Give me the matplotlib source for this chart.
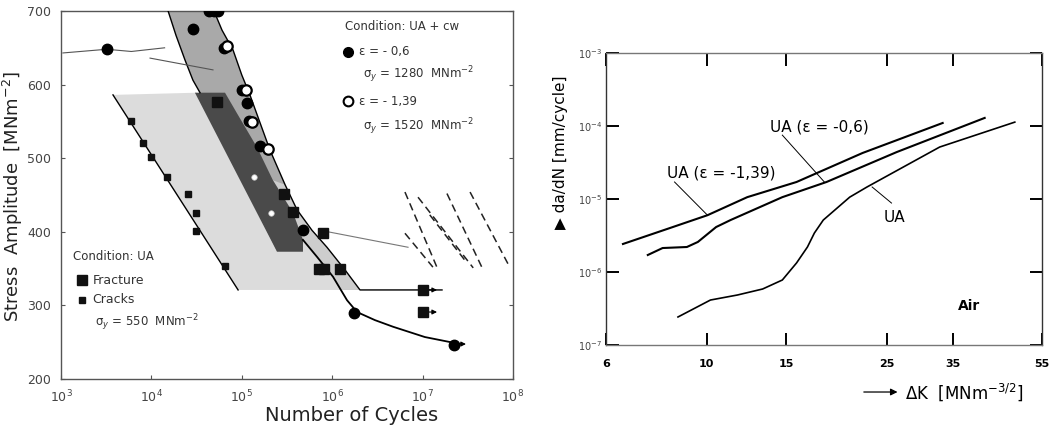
import numpy as np
import matplotlib
matplotlib.use('Agg')
import matplotlib.pyplot as plt
from matplotlib.patches import Polygon

# ================= Left panel: S-N data =================
cracks_N = [5.9e3, 8.15e3, 9.9e3, 1.48e4, 2.52e4, 3.09e4, 3.12e4, 6.5e4]
cracks_S = [551, 520, 501, 475, 451, 426, 401, 353]
cracks_line_N = [3.76e3, 9.1e4]
cracks_line_S = [586, 321]

fracture_N = [5.3e4, 2.9e5, 3.7e5, 8.0e5, 7.1e5, 8.2e5, 1.23e6, 1e7, 1e7]
fracture_S = [577, 452, 427, 399, 350, 350, 350, 321, 291]

eps06_N = [3.2e3, 4.3e4, 4.9e4, 5.5e4, 2.87e4, 6.3e4, 1.0e5, 1.13e5, 1.2e5, 1.6e5, 4.8e5, 1.75e6, 2.2e7]
eps06_S = [648, 700, 700, 700, 675, 650, 593, 575, 550, 516, 402, 290, 246]

eps139_N = [6.8e4, 1.1e5, 1.29e5, 1.97e5]
eps139_S = [652, 593, 549, 512]
eps139_small_N = [1.35e5, 2.1e5]
eps139_small_S = [475, 425]

# band boundaries
upper_left_N = [1.53e4, 1.87e4, 2.36e4, 2.88e4, 3.45e4]
upper_left_S = [700, 667, 633, 606, 589]
lower_curve_N = [4.75e5, 6.79e5, 1.02e6, 1.46e6, 1.88e6, 2.97e6, 4.71e6, 1.06e7, 2.59e7]
lower_curve_S = [389, 366, 339, 307, 291, 280, 271, 257, 247.5]
right_curve_N = [4.92e4, 6.04e4, 8.0e4, 1.0e5, 1.23e5, 1.55e5, 2.05e5, 3.01e5, 4.08e5,
                 5.98e5, 8.75e5, 1.39e6, 2.03e6, 1.64e7]
right_curve_S = [700, 674, 647, 613, 586, 552, 511, 464, 430, 402, 379, 348, 321, 321]

dark_N = [3.03e4, 6.52e4, 8.85e4, 1.47e5, 2.21e5, 3.68e5, 4.75e5, 4.75e5, 2.45e5]
dark_S = [589, 589, 561, 515, 470, 426, 389, 373, 373]
light_N = [3.76e3, 3.19e4, 2.45e5, 4.75e5, 4.75e5, 6.79e5, 1.02e6, 1.22e6, 9.08e4]
light_S = [586, 589, 373, 373, 389, 366, 339, 321, 321]
lowband_N = [2.21e5, 3.68e5, 4.75e5, 6.79e5, 1.02e6, 1.22e6, 2.03e6, 1.39e6, 8.75e5, 5.98e5, 4.08e5, 3.01e5]
lowband_S = [470, 426, 389, 366, 339, 321, 321, 348, 379, 402, 430, 464]

# annotation / leader lines
wavy_N = [1.05e3, 3.2e3, 6e3, 1.4e4]
wavy_S = [643, 648, 645, 650]
leader1_N = [9.66e3, 4.8e4]
leader1_S = [636, 620]
leader2_N = [9.0e5, 6.9e6]
leader2_S = [400, 379]
hatch_N0 = [6.38e6, 8.9e6, 1.86e7, 3.35e7, 6.38e6, 1.2e7]
hatch_S0 = [454, 447, 452, 454, 398, 423]
hatch_N1 = [1.45e7, 3.63e7, 4.68e7, 9.2e7, 1.3e7, 2.95e7]
hatch_S1 = [351, 351, 348, 352, 352, 361]

# ================= Right panel: da/dN data =================
dk_139 = [6.54, 8.3, 10.05, 12.3, 15.8, 22.1, 33.2]
da_139 = [2.42e-6, 4.0e-6, 6.0e-6, 1.06e-5, 1.71e-5, 4.27e-5, 1.1e-4]
dk_06 = [7.42, 8.0, 9.05, 9.57, 10.5, 11.3, 14.7, 18.4, 26.3, 41.1]
da_06 = [1.71e-6, 2.13e-6, 2.2e-6, 2.58e-6, 4.13e-6, 5.15e-6, 1.06e-5, 1.71e-5, 4.4e-5, 1.29e-4]
dk_ua = [8.65, 10.2, 11.7, 13.3, 14.7, 15.8, 16.7, 17.3, 18.1, 20.7, 22.6, 32.7, 47.9]
da_ua = [2.42e-7, 4.13e-7, 4.84e-7, 5.85e-7, 7.77e-7, 1.33e-6, 2.2e-6, 3.42e-6, 5.15e-6,
         1.06e-5, 1.46e-5, 5.15e-5, 1.13e-4]
dk_ticks = [6, 10, 15, 25, 35, 55]
da_ticks = [1e-7, 1e-6, 1e-5, 1e-4, 1e-3]

plt.rcParams['font.family'] = ['DejaVu Sans']
fig = plt.figure(figsize=(10.61, 4.33), dpi=100)

# ---------------- left axes ----------------
ax = fig.add_axes([61/1061, 1-379/433, 452/1061, 368/433])
ax.set_xscale('log')
ax.set_xlim(1e3, 1e8)
ax.set_ylim(200, 700)
txtc = '#333333'

ax.add_patch(Polygon(list(zip(light_N, light_S)), closed=True, fc='#dcdcdc', ec='none', zorder=1))
band_N = upper_left_N + dark_N[5:8][::-1][:0] + [2.45e5, 4.75e5] + lower_curve_N[:3] + [1.22e6] + right_curve_N[:13][::-1]
band_S = upper_left_S + [373, 373] + lower_curve_S[:3] + [321] + right_curve_S[:13][::-1]
ax.add_patch(Polygon(list(zip(band_N, band_S)), closed=True, fc='#a9a9a9', ec='none', zorder=1.2))
ax.add_patch(Polygon(list(zip(lowband_N, lowband_S)), closed=True, fc='#cdcdcd', ec='none', zorder=1.4))
ax.add_patch(Polygon(list(zip(dark_N, dark_S)), closed=True, fc='#4a4a4a', ec='none', zorder=1.6))

ax.plot(cracks_line_N, cracks_line_S, color='black', lw=1.0, zorder=3)
ax.plot(upper_left_N, upper_left_S, color='black', lw=1.0, zorder=3)
ax.plot(lower_curve_N, lower_curve_S, color='black', lw=1.3, zorder=3)
ax.plot(right_curve_N, right_curve_S, color='black', lw=1.0, zorder=3)
ax.plot(wavy_N, wavy_S, color='#555555', lw=0.8, zorder=3)
ax.plot(leader1_N, leader1_S, color='#555555', lw=0.8, zorder=3)
ax.plot(leader2_N, leader2_S, color='#777777', lw=0.8, zorder=3)
for n0, s0, n1, s1 in zip(hatch_N0, hatch_S0, hatch_N1, hatch_S1):
    ax.plot([n0, n1], [s0, s1], color='#222222', lw=1.1, ls=(0, (5, 3)), zorder=2)

# runout arrows
for n, s in [(fracture_N[-2], fracture_S[-2]), (fracture_N[-1], fracture_S[-1])]:
    ax.annotate('', xy=(n*1.55, s), xytext=(n, s),
                arrowprops=dict(arrowstyle='-|>', color='black', lw=0.8, mutation_scale=7), zorder=4)
ax.annotate('', xy=(lower_curve_N[-1]*1.25, lower_curve_S[-1]), xytext=(lower_curve_N[-1], lower_curve_S[-1]),
            arrowprops=dict(arrowstyle='-|>', color='black', lw=0.8, mutation_scale=7), zorder=4)

ax.plot(cracks_N, cracks_S, 's', color='#111111', ms=4.5, zorder=5)
ax.plot(fracture_N, fracture_S, 's', color='#111111', ms=7.5, zorder=5)
ax.plot(eps06_N, eps06_S, 'o', color='black', ms=7.5, zorder=6)
ax.plot(eps139_N, eps139_S, 'o', mfc='white', mec='black', mew=1.6, ms=7.5, zorder=7)
ax.plot(eps139_small_N, eps139_small_S, 'o', mfc='white', mec='#bbbbbb', mew=0.5, ms=4, zorder=7)

for sp in ax.spines.values():
    sp.set_color('#555555')
    sp.set_linewidth(1.0)
ax.set_yticks([200, 300, 400, 500, 600, 700])
ax.set_xticks([1e3, 1e4, 1e5, 1e6, 1e7, 1e8])
ax.set_xticklabels([r'$10^{3}$', r'$10^{4}$', r'$10^{5}$', r'$10^{6}$', r'$10^{7}$', r'$10^{8}$'])
ax.minorticks_off()
ax.tick_params(direction='in', length=3, labelsize=9, labelcolor='#444444', color='#555555',
               right=True, pad=7)

T = ax.transAxes
ax.text(0.628, 0.957, 'Condition: UA + cw', transform=T, fontsize=8.5, color=txtc, va='center')
ax.plot([0.635], [0.889], 'o', color='black', ms=7, transform=T, clip_on=False)
ax.text(0.660, 0.889, 'ε = - 0,6', transform=T, fontsize=8.5, color=txtc, va='center')
ax.text(0.668, 0.826, r'σ$_y$ = 1280  MNm$^{-2}$', transform=T, fontsize=8.5, color=txtc, va='center')
ax.plot([0.635], [0.755], 'o', mfc='white', mec='black', mew=1.5, ms=7, transform=T, clip_on=False)
ax.text(0.660, 0.755, 'ε = - 1,39', transform=T, fontsize=8.5, color=txtc, va='center')
ax.text(0.668, 0.685, r'σ$_y$ = 1520  MNm$^{-2}$', transform=T, fontsize=8.5, color=txtc, va='center')

ax.text(0.027, 0.332, 'Condition: UA', transform=T, fontsize=8.5, color=txtc, va='center')
ax.plot([0.046], [0.269], 's', color='#111111', ms=7, transform=T)
ax.text(0.070, 0.269, 'Fracture', transform=T, fontsize=9, color=txtc, va='center')
ax.plot([0.046], [0.215], 's', color='#111111', ms=4.5, transform=T)
ax.text(0.070, 0.215, 'Cracks', transform=T, fontsize=9, color=txtc, va='center')
ax.text(0.075, 0.152, r'σ$_y$ = 550  MNm$^{-2}$', transform=T, fontsize=8.5, color=txtc, va='center')

ax.text(0.642, -0.10, 'Number of Cycles', transform=T, fontsize=14, color='#222222',
        ha='center', va='center')
ax.text(-0.106, 0.497, r'Stress  Amplitude  [MNm$^{-2}$]', transform=T, fontsize=13,
        color='#222222', rotation=90, ha='center', va='center')

# ---------------- right axes ----------------
ax2 = fig.add_axes([606/1061, 1-345/433, 436/1061, 292/433])
ax2.set_xscale('log')
ax2.set_yscale('log')
ax2.set_xlim(6, 55)
ax2.set_ylim(1e-7, 1e-3)
ax2.plot(dk_139, da_139, color='black', lw=1.5)
ax2.plot(dk_06, da_06, color='black', lw=1.5)
ax2.plot(dk_ua, da_ua, color='black', lw=1.2)

ax2.set_xticks(dk_ticks)
ax2.set_xticklabels([str(v) for v in dk_ticks], fontweight='bold')
ax2.set_yticks(da_ticks)
ax2.set_yticklabels([r'$10^{-7}$', r'$10^{-6}$', r'$10^{-5}$', r'$10^{-4}$', r'$10^{-3}$'])
ax2.minorticks_off()
ax2.tick_params(axis='x', direction='in', length=9, width=1.4, top=True, labelsize=8, pad=10)
ax2.tick_params(axis='y', direction='in', length=9, width=1.4, right=True, labelsize=7,
                labelcolor='#444444', pad=3)
for side, sp in ax2.spines.items():
    sp.set_linewidth(1.0)
    sp.set_color('#333333' if side in ('left', 'right') else '#777777')

ax2.text(13.8, 9.7e-5, 'UA (ε = -0,6)', fontsize=11, va='center', ha='left')
ax2.plot([14.7, 18.2], [7.5e-5, 1.71e-5], color='black', lw=0.7)
ax2.text(8.18, 2.27e-5, 'UA (ε = -1,39)', fontsize=11, va='center', ha='left')
ax2.plot([8.5, 10.05], [1.71e-5, 6.0e-6], color='black', lw=0.7)
ax2.text(24.6, 5.66e-6, 'UA', fontsize=11, va='center', ha='left')
ax2.plot([25.6, 23.2], [8.8e-6, 1.46e-5], color='black', lw=0.7)
ax2.text(37.9, 3.42e-7, 'Air', fontsize=10, fontweight='bold', va='center', ha='center')

T2 = ax2.transAxes
ax2.annotate('', xy=(0.675, -0.161), xytext=(0.585, -0.161), xycoords=T2, textcoords=T2,
             arrowprops=dict(arrowstyle='-|>', color='black', lw=0.9, mutation_scale=10))
ax2.text(0.685, -0.161, r'ΔK  [MNm$^{-3/2}$]', transform=T2, fontsize=12, va='center', ha='left')
ax2.text(-0.105, 0.66, '▶ da/dN [mm/cycle]', transform=T2, fontsize=11, rotation=90,
         ha='center', va='center')

fig.savefig('out.png', dpi=100)
